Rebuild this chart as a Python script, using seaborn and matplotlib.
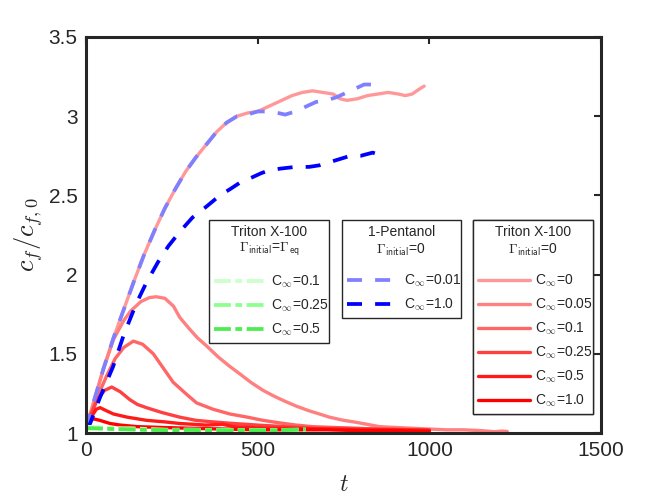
import numpy as np
import pandas as pd
import matplotlib
matplotlib.use('Agg')
import matplotlib.pyplot as plt
import seaborn as sns
from matplotlib.ticker import FormatStrFormatter

# --- data ---------------------------------------------------------------
# Triton X-100, Gamma_initial = 0 (solid reds)
t_c0 = [0, 20, 50, 80, 110, 140, 170, 200, 230, 260, 290, 320, 350, 380, 410, 440,
        470, 500, 530, 550, 570, 600, 630, 660, 690, 720, 740, 760, 790, 820, 850,
        880, 910, 930, 950, 970, 985]
v_c0 = [1.03, 1.18, 1.40, 1.60, 1.78, 1.96, 2.13, 2.28, 2.42, 2.54, 2.65, 2.74, 2.82,
        2.90, 2.96, 3.00, 3.02, 3.03, 3.06, 3.08, 3.10, 3.13, 3.15, 3.16, 3.15, 3.14,
        3.11, 3.10, 3.11, 3.13, 3.14, 3.15, 3.14, 3.13, 3.14, 3.17, 3.19]

t_c005 = [0, 20, 50, 80, 110, 130, 160, 185, 205, 230, 255, 273, 300, 325, 351, 385,
          419, 450, 480, 515, 550, 580, 612, 650, 680, 709, 750, 780, 806, 855, 900,
          950, 1000, 1050, 1100, 1150, 1190, 1210, 1227]
v_c005 = [1.03, 1.17, 1.40, 1.59, 1.71, 1.77, 1.83, 1.855, 1.86, 1.85, 1.80, 1.73,
          1.66, 1.60, 1.55, 1.48, 1.42, 1.37, 1.32, 1.27, 1.23, 1.20, 1.17, 1.14, 1.12,
          1.10, 1.08, 1.07, 1.06, 1.04, 1.035, 1.03, 1.025, 1.02, 1.02, 1.015, 1.008,
          1.012, 1.01]

t_c01 = [0, 20, 40, 60, 85, 110, 138, 165, 196, 225, 254, 290, 322, 370, 419, 470, 515,
         560, 612, 660, 720, 780, 850, 920, 1000]
v_c01 = [1.03, 1.15, 1.26, 1.36, 1.47, 1.54, 1.58, 1.56, 1.50, 1.41, 1.32, 1.25, 1.19,
         1.15, 1.12, 1.10, 1.08, 1.065, 1.05, 1.04, 1.035, 1.03, 1.025, 1.02, 1.02]

t_c025 = [0, 15, 35, 55, 75, 100, 128, 150, 176, 220, 273, 320, 370, 430, 500, 580,
          660, 750, 850, 1000]
v_c025 = [1.03, 1.12, 1.22, 1.27, 1.29, 1.26, 1.21, 1.18, 1.16, 1.13, 1.10, 1.08,
          1.07, 1.06, 1.05, 1.04, 1.03, 1.03, 1.025, 1.02]

t_c05 = [0, 15, 30, 41, 60, 80, 120, 176, 230, 273, 350, 398, 430, 520, 600, 700, 800,
         900, 1000]
v_c05 = [1.03, 1.10, 1.15, 1.16, 1.14, 1.12, 1.10, 1.08, 1.07, 1.06, 1.05, 1.055,
         1.04, 1.03, 1.03, 1.025, 1.02, 1.02, 1.015]

t_c1 = [0, 10, 21, 40, 70, 100, 150, 220, 300, 400, 500, 600, 700, 800, 900, 1000]
v_c1 = [1.03, 1.07, 1.09, 1.08, 1.06, 1.05, 1.04, 1.035, 1.03, 1.025, 1.02, 1.02,
        1.02, 1.015, 1.015, 1.01]

# 1-Pentanol, Gamma_initial = 0 (dashed blues)
t_p001 = [0, 20, 50, 80, 110, 140, 170, 200, 230, 260, 290, 320, 350, 380, 410, 440,
          470, 500, 530, 560, 580, 610, 640, 670, 700, 730, 760, 790, 810, 840]
v_p001 = [1.03, 1.18, 1.40, 1.60, 1.78, 1.96, 2.13, 2.28, 2.42, 2.54, 2.65, 2.74, 2.82,
          2.90, 2.96, 3.00, 3.01, 3.03, 3.03, 3.02, 3.01, 3.03, 3.06, 3.09, 3.10,
          3.12, 3.15, 3.18, 3.20, 3.20]

t_p1 = [0, 12, 40, 79, 110, 147, 176, 210, 240, 273, 310, 351, 390, 420, 448, 480, 510,
        535, 570, 610, 650, 680, 710, 740, 770, 800, 835, 864]
v_p1 = [1.03, 1.06, 1.22, 1.42, 1.62, 1.82, 1.95, 2.08, 2.18, 2.27, 2.36, 2.43, 2.50,
        2.54, 2.58, 2.61, 2.64, 2.66, 2.67, 2.68, 2.68, 2.69, 2.71, 2.73, 2.75, 2.75,
        2.77, 2.75]

# Triton X-100, Gamma_initial = Gamma_eq (dash-dot greens)
t_eq = [0, 40, 80, 130, 180, 240, 300, 360, 420, 480, 540, 590, 640]
v_eq01 = [1.04, 1.035, 1.03, 1.03, 1.025, 1.02, 1.022, 1.02, 1.018, 1.02, 1.018,
          1.02, 1.02]
v_eq025 = [1.035, 1.03, 1.028, 1.025, 1.022, 1.02, 1.02, 1.018, 1.02, 1.017, 1.02,
           1.018, 1.022]
v_eq05 = [1.03, 1.028, 1.025, 1.022, 1.02, 1.018, 1.02, 1.017, 1.016, 1.018, 1.016,
          1.02, 1.025]

red_labels = ['0', '0.05', '0.1', '0.25', '0.5', '1.0']
blue_labels = ['0.01', '1.0']
green_labels = ['0.1', '0.25', '0.5']

# --- style ----------------------------------------------------------------
sns.set_style('white')
plt.rcParams['font.family'] = ['Liberation Sans', 'DejaVu Sans']
plt.rcParams['mathtext.fontset'] = 'cm'

fig = plt.figure(figsize=(6.64, 4.98), dpi=100)
ax = fig.add_axes([86 / 664, 1 - 433 / 498, 515 / 664, 396 / 498])

reds = [(1, .6, .6), (1, .5, .5), (1, .4, .4), (1, .25, .25), (1, .1, .1), (1, 0, 0)]
blues = [(.5, .5, 1), (0, 0, 1)]
greens = [(.8, 1, .8), (.55, 1, .55), (.3, .93, .3)]

red_t = [t_c0, t_c005, t_c01, t_c025, t_c05, t_c1]
red_v = [v_c0, v_c005, v_c01, v_c025, v_c05, v_c1]

red_lines, blue_lines, green_lines = [], [], []
for t, v, c in zip(red_t, red_v, reds):
    sns.lineplot(x=t, y=v, ax=ax, color=c, lw=2.4, sort=False, estimator=None)
    red_lines.append(ax.get_lines()[-1])
for t, v, c in zip([t_p001, t_p1], [v_p001, v_p1], blues):
    sns.lineplot(x=t, y=v, ax=ax, color=c, lw=2.7, sort=False, estimator=None,
                 linestyle=(0, (4, 3.5)))
    blue_lines.append(ax.get_lines()[-1])
for v, c in zip([v_eq01, v_eq025, v_eq05], greens):
    sns.lineplot(x=t_eq, y=v, ax=ax, color=c, lw=2.7, sort=False, estimator=None,
                 linestyle=(0, (4.5, 1.2, 1.8, 1.2)))
    green_lines.append(ax.get_lines()[-1])

ax.set_xlim(0, 1500)
ax.set_ylim(1, 3.5)
ax.set_xticks([0, 500, 1000, 1500])
ax.set_yticks([1, 1.5, 2, 2.5, 3, 3.5])
ax.yaxis.set_major_formatter(FormatStrFormatter('%g'))
ax.tick_params(direction='in', length=5, width=1.5, top=True, right=True,
               labelsize=15, colors='0.15', pad=6)
for s in ax.spines.values():
    s.set_linewidth(2.2)
    s.set_color('0.15')
ax.set_xlabel('$t$', fontsize=17, color='0.15', labelpad=10)
ax.set_ylabel('$c_f/c_{f,0}$', fontsize=19, color='0.15', labelpad=3)

leg_kw = dict(loc='upper left', mode='expand', fontsize=10, title_fontsize=10,
              frameon=True, fancybox=False, framealpha=1, edgecolor='0.15',
              borderaxespad=0, handlelength=3.8, handletextpad=0.3,
              labelspacing=0.55, borderpad=0.35)


def make_legend(lines, labels, title, x0, x1, ytop):
    leg = ax.legend(lines, ['C$_\\infty$=' + l for l in labels], title=title,
                    bbox_to_anchor=(x0, 0, x1 - x0, ytop), **leg_kw)
    leg.get_frame().set_linewidth(1.0)
    leg.get_title().set_multialignment('center')
    # a bit more room between the title and the entries
    leg._legend_box.sep = 11
    ax.add_artist(leg)
    return leg


make_legend(green_lines, green_labels,
            'Triton X-100\n$\\Gamma_{\\mathsf{initial}}$=$\\Gamma_{\\mathsf{eq}}$',
            0.239, 0.472, 0.538)
make_legend(blue_lines, blue_labels,
            '1-Pentanol\n$\\Gamma_{\\mathsf{initial}}$=0',
            0.497, 0.728, 0.538)
make_legend(red_lines, red_labels,
            'Triton X-100\n$\\Gamma_{\\mathsf{initial}}$=0',
            0.751, 0.984, 0.538)

fig.savefig('out.png', dpi=100)
